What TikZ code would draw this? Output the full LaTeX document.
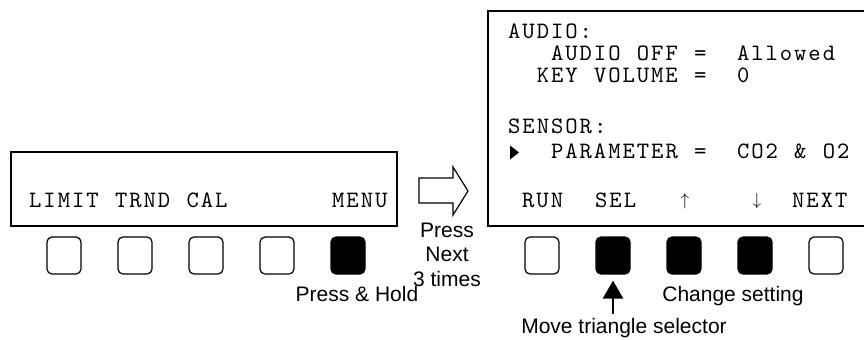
\documentclass[tikz,border=0pt]{standalone}
\usepackage{fontspec}
\newfontfamily\lcdfont[LetterSpace=8.35]{lmmono10-regular.otf}
\newfontfamily\labfont{Liberation Sans}
\usetikzlibrary{arrows.meta}
\newcommand{\cwd}{14.3}
\tikzset{
  lcd/.style={font=\lcdfont\fontsize{23.5bp}{24bp}\selectfont, inner sep=0pt, anchor=base west},
  lcdarrow/.style={font=\fontsize{17bp}{20bp}\selectfont, inner sep=0pt, anchor=center},
  lab/.style={font=\labfont\fontsize{21bp}{24bp}\selectfont, inner sep=0pt, anchor=base},
  panel/.style={draw, line width=2bp, inner sep=0pt, anchor=north west},
  keybox/.style={draw, line width=1.2bp, rounded corners=5bp, minimum width=34bp, minimum height=37bp, inner sep=0pt},
  keyon/.style={keybox, fill=black},
  hollow/.style={draw, line width=1.2bp, line join=miter},
  pointer/.style={line width=2.6bp, -{Triangle[width=20bp,length=18bp]}},
}
\begin{document}
\begin{tikzpicture}[x=1bp,y=-1bp]
\useasboundingbox (0,0) rectangle (864,339);
\def\lx{29}
\def\rx{508}
% left panel
\node[panel, minimum width=386bp, minimum height=74bp] (lp) at (10,151) {};
\node[lcd] (limit) at (\lx,207) {LIMIT};
\node[lcd] (trnd) at (\lx+6*\cwd,207) {TRND};
\node[lcd] (cal) at (\lx+11*\cwd,207) {CAL};
\node[lcd] (menu) at (332,207) {MENU};
\node[keybox] (l1) at (64,255.5) {};
\node[keybox] (l2) at (135,255.5) {};
\node[keybox] (l3) at (206,255.5) {};
\node[keybox] (l4) at (277,255.5) {};
\node[keyon] (l5) at (348,255.5) {};
\node[lab] (hold) at (357,301) {Press \& Hold};
% hollow arrow
\draw[hollow] (419,178) -- (453,178) -- (453,167) -- (468,191) -- (453,215) -- (453,203) -- (419,203) -- cycle;
\node[lab] (press) at (447,237) {Press};
\node[lab] (next) at (447,261) {Next};
\node[lab] (times) at (447,286) {3 times};
% right panel
\node[panel, minimum width=380bp, minimum height=215bp] (rp) at (487,10) {};
\node[lcd] (audio) at (\rx,38) {AUDIO:};
\node[lcd] (aoffa) at (\rx+3*\cwd,60) {AUDIO};
\node[lcd] (aoffb) at (\rx+9*\cwd,60) {OFF};
\node[lcd] (eq1) at (\rx+13*\cwd,60) {=};
\node[lcd] (allowed) at (\rx+16*\cwd,60) {Allowed};
\node[lcd] (keyw) at (\rx+2*\cwd,82) {KEY};
\node[lcd] (volw) at (\rx+6*\cwd,82) {VOLUME};
\node[lcd] (eq2) at (\rx+13*\cwd,82) {=};
\node[lcd] (zero) at (\rx+16*\cwd,82) {0};
\node[lcd] (sensor) at (\rx,133) {SENSOR:};
\fill (510,145.5) -- (519,152.5) -- (510,159.5) -- cycle;
\node[lcd] (param) at (\rx+3*\cwd,158) {PARAMETER};
\node[lcd] (eq3) at (\rx+13*\cwd,158) {=};
\node[lcd] (gasa) at (\rx+16*\cwd,158) {CO2};
\node[lcd] (gasb) at (\rx+20*\cwd,158) {\&};
\node[lcd] (gasc) at (\rx+22*\cwd,158) {O2};
\node[lcd] (run) at (522,207) {RUN};
\node[lcd] (sel) at (595,207) {SEL};
\node[lcdarrow] (up) at (685,201) {$\uparrow$};
\node[lcdarrow] (down) at (757,201) {$\downarrow$};
\node[lcd] (nextk) at (792,207) {NEXT};
\node[keybox] (r1) at (542,255.5) {};
\node[keyon] (r2) at (613,255.5) {};
\node[keyon] (r3) at (684,255.5) {};
\node[keyon] (r4) at (755,255.5) {};
\node[keybox] (r5) at (826,255.5) {};
\node[lab] (change) at (733,301) {Change setting};
\node[lab] (move) at (624,333) {Move triangle selector};
\draw[pointer] (move.north -| r2) ++(0,-4) coordinate (ptail) (ptail) -- ([yshift=-6bp]r2.south);
\end{tikzpicture}
\end{document}
